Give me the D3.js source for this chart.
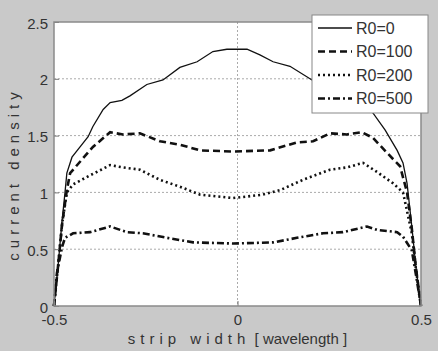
<!DOCTYPE html>
<html lang="en">

<head>
  <meta charset="utf-8">
  <title>Current density</title>
  <style>
    body {
      margin: 0;
      background: #c9c9c9;
    }

    #chart text {
      font-family: Arial, "Liberation Sans", sans-serif;
      fill: #333;
    }
  </style>
</head>

<body>
  <div id="chart"></div>
</body>
<script src="https://d3js.org/d3.v7.min.js"></script>

<script>
  // series
  var xs0 = [-0.5, -0.489, -0.478, -0.470, -0.465, -0.451, -0.429, -0.407, -0.394, -0.366, -0.347, -0.315, -0.293, -0.247, -0.203, -0.157, -0.110, -0.067, -0.029, 0.026, 0.061, 0.097, 0.143, 0.203, 0.279, 0.334, 0.369, 0.402, 0.435, 0.451, 0.462, 0.475, 0.486, 0.5];
  var r0 = [0, 0.35, 0.75, 1.0, 1.17, 1.31, 1.40, 1.49, 1.58, 1.73, 1.79, 1.81, 1.85, 1.95, 1.99, 2.10, 2.15, 2.24, 2.26, 2.26, 2.21, 2.15, 2.11, 1.99, 1.86, 1.76, 1.70, 1.55, 1.37, 1.26, 1.08, 0.70, 0.35, 0];

  var xs100 = [-0.5, -0.489, -0.478, -0.465, -0.456, -0.421, -0.394, -0.347, -0.312, -0.266, -0.211, -0.157, -0.102, -0.012, 0.089, 0.162, 0.206, 0.252, 0.298, 0.339, 0.369, 0.407, 0.443, 0.462, 0.475, 0.486, 0.5];
  var r100 = [0, 0.35, 0.72, 1.02, 1.17, 1.30, 1.40, 1.53, 1.51, 1.52, 1.45, 1.42, 1.37, 1.36, 1.37, 1.44, 1.45, 1.52, 1.51, 1.53, 1.48, 1.35, 1.23, 1.00, 0.68, 0.34, 0];

  var xs200 = [-0.5, -0.489, -0.478, -0.465, -0.448, -0.402, -0.347, -0.312, -0.266, -0.211, -0.157, -0.102, -0.012, 0.069, 0.116, 0.178, 0.252, 0.298, 0.342, 0.380, 0.424, 0.451, 0.475, 0.486, 0.5];
  var r200 = [0, 0.35, 0.72, 1.00, 1.07, 1.15, 1.24, 1.22, 1.20, 1.11, 1.05, 0.98, 0.95, 0.98, 1.02, 1.11, 1.20, 1.22, 1.26, 1.18, 1.08, 1.00, 0.64, 0.33, 0];

  var xs500 = [-0.5, -0.492, -0.478, -0.470, -0.448, -0.402, -0.347, -0.301, -0.258, -0.192, -0.121, -0.012, 0.097, 0.162, 0.233, 0.287, 0.353, 0.380, 0.435, 0.451, 0.475, 0.486, 0.5];
  var r500 = [0, 0.29, 0.52, 0.60, 0.64, 0.65, 0.70, 0.65, 0.64, 0.60, 0.56, 0.55, 0.56, 0.60, 0.64, 0.65, 0.70, 0.67, 0.65, 0.61, 0.49, 0.28, 0];

  var seriesNames = ["R0=0", "R0=100", "R0=200", "R0=500"];
  var xTicks = [-0.5, 0, 0.5];
  var yTicks = [0, 0.5, 1, 1.5, 2, 2.5];

  var series = [
    { name: seriesNames[0], xs: xs0, ys: r0, width: 1.3, dash: null },
    { name: seriesNames[1], xs: xs100, ys: r100, width: 2.6, dash: "7,4" },
    { name: seriesNames[2], xs: xs200, ys: r200, width: 2.6, dash: "2,3" },
    { name: seriesNames[3], xs: xs500, ys: r500, width: 2.6, dash: "7,3,2,3" }
  ];

  var W = 438,
    H = 351,
    margin = { top: 22, right: 17, bottom: 45, left: 54 },
    width = W - margin.left - margin.right,
    height = H - margin.top - margin.bottom;

  var svg = d3.select("#chart")
    .append("svg")
    .attr("width", W)
    .attr("height", H);

  svg.append("rect")
    .attr("width", W)
    .attr("height", H)
    .attr("fill", "#c9c9c9");

  var g = svg.append("g")
    .attr("transform", "translate(" + margin.left + "," + margin.top + ")");

  var x = d3.scaleLinear().domain([-0.5, 0.5]).range([0, width]);
  var y = d3.scaleLinear().domain([0, 2.5]).range([height, 0]);

  g.append("rect")
    .attr("width", width)
    .attr("height", height)
    .attr("fill", "white");

  // dotted grid
  g.append("g")
    .selectAll("line")
    .data([0.5, 1, 1.5, 2])
    .enter()
    .append("line")
    .attr("x1", 0)
    .attr("x2", width)
    .attr("y1", function (d) { return y(d); })
    .attr("y2", function (d) { return y(d); })
    .attr("stroke", "#aaa")
    .attr("stroke-dasharray", "2,2");

  g.append("line")
    .attr("x1", x(0))
    .attr("x2", x(0))
    .attr("y1", 0)
    .attr("y2", height)
    .attr("stroke", "#aaa")
    .attr("stroke-dasharray", "2,2");

  var line = d3.line()
    .x(function (d) { return x(d[0]); })
    .y(function (d) { return y(d[1]); });

  series.forEach(function (s) {
    var pts = s.xs.map(function (v, i) { return [v, s.ys[i]]; });
    g.append("path")
      .datum(pts)
      .attr("d", line)
      .attr("fill", "none")
      .attr("stroke", "#111")
      .attr("stroke-width", s.width)
      .attr("stroke-dasharray", s.dash);
  });

  // axes (ticks inward, matlab style)
  var xAxis = g.append("g")
    .attr("transform", "translate(0," + height + ")")
    .call(d3.axisBottom(x).tickValues(xTicks).tickSize(-5).tickPadding(8)
      .tickFormat(function (d) { return d === 0 ? "0" : d; }));
  var yAxis = g.append("g")
    .call(d3.axisLeft(y).tickValues(yTicks).tickSize(-5).tickPadding(6)
      .tickFormat(function (d) { return d; }));
  [xAxis, yAxis].forEach(function (a) {
    a.select(".domain").remove();
    a.selectAll("line").attr("stroke", "#777");
    a.selectAll("text").style("font-size", "15px").attr("fill", "#333");
  });
  yAxis.selectAll("text").attr("dy", "0.4em");

  g.append("rect")
    .attr("width", width)
    .attr("height", height)
    .attr("fill", "none")
    .attr("stroke", "#8a8a8a")
    .attr("stroke-width", 1.5);

  // axis labels
  svg.append("text")
    .attr("x", margin.left + x(0))
    .attr("y", 344)
    .attr("text-anchor", "middle")
    .style("font-size", "15px")
    .html('<tspan style="letter-spacing:5px">strip width</tspan> [ wavelength ]');

  svg.append("text")
    .attr("transform", "translate(19," + (margin.top + height / 2 + 10) + ") rotate(-90)")
    .attr("text-anchor", "middle")
    .style("font-size", "15px")
    .style("letter-spacing", "5px")
    .text("current density");

  // legend
  var lg = svg.append("g").attr("transform", "translate(312,15)");
  lg.append("rect")
    .attr("width", 116)
    .attr("height", 98)
    .attr("fill", "white")
    .attr("stroke", "#888");
  series.forEach(function (s, i) {
    var cy = 13 + i * 23.5;
    lg.append("line")
      .attr("x1", 6)
      .attr("x2", 40)
      .attr("y1", cy)
      .attr("y2", cy)
      .attr("stroke", "#111")
      .attr("stroke-width", s.width)
      .attr("stroke-dasharray", s.dash);
    lg.append("text")
      .attr("x", 44)
      .attr("y", cy)
      .attr("dy", "0.36em")
      .style("font-size", "16px")
      .text(s.name);
  });
</script>

</html>
